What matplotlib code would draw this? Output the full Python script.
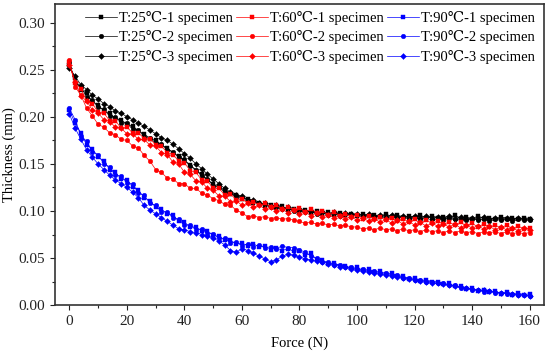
import matplotlib
matplotlib.use("Agg")
import matplotlib.pyplot as plt
from matplotlib.ticker import MultipleLocator, FormatStrFormatter

plt.rcParams['font.family'] = ['Liberation Serif', 'DejaVu Serif']

force = [0, 2, 4, 6, 8, 10, 12, 14, 16, 18,
         20, 22, 24, 26, 28, 30, 32, 34, 36, 38,
         40, 42, 44, 46, 48, 50, 52, 54, 56, 58,
         60, 62, 64, 66, 68, 70, 72, 74, 76, 78,
         80, 82, 84, 86, 88, 90, 92, 94, 96, 98,
         100, 102, 104, 106, 108, 110, 112, 114, 116, 118,
         120, 122, 124, 126, 128, 130, 132, 134, 136, 138,
         140, 142, 144, 146, 148, 150, 152, 154, 156, 158, 160]

t25_1 = [0.255, 0.241, 0.229, 0.225, 0.216, 0.213, 0.206, 0.204, 0.198, 0.197,
         0.192, 0.190, 0.185, 0.182, 0.177, 0.175, 0.170, 0.167, 0.162, 0.158,
         0.153, 0.149, 0.143, 0.139, 0.133, 0.129, 0.125, 0.122, 0.118, 0.117,
         0.113, 0.113, 0.109, 0.109, 0.105, 0.106, 0.103, 0.105, 0.101, 0.102,
         0.099, 0.101, 0.098, 0.100, 0.097, 0.099, 0.096, 0.098, 0.096, 0.097,
         0.095, 0.097, 0.095, 0.096, 0.094, 0.097, 0.094, 0.096, 0.093, 0.095,
         0.093, 0.096, 0.092, 0.095, 0.093, 0.094, 0.092, 0.096, 0.092, 0.094,
         0.091, 0.095, 0.092, 0.093, 0.091, 0.094, 0.092, 0.093, 0.091, 0.093, 0.092]
t25_2 = [0.258, 0.236, 0.232, 0.221, 0.218, 0.210, 0.208, 0.201, 0.200, 0.194,
         0.193, 0.187, 0.186, 0.179, 0.178, 0.172, 0.171, 0.165, 0.163, 0.157,
         0.155, 0.148, 0.144, 0.137, 0.134, 0.127, 0.125, 0.120, 0.119, 0.115,
         0.115, 0.111, 0.111, 0.107, 0.107, 0.104, 0.104, 0.102, 0.103, 0.100,
         0.101, 0.099, 0.100, 0.097, 0.099, 0.096, 0.098, 0.095, 0.097, 0.095,
         0.096, 0.094, 0.096, 0.093, 0.095, 0.093, 0.095, 0.092, 0.094, 0.092,
         0.094, 0.091, 0.094, 0.092, 0.093, 0.090, 0.093, 0.091, 0.092, 0.090,
         0.092, 0.090, 0.092, 0.089, 0.091, 0.090, 0.091, 0.089, 0.091, 0.090, 0.090]
t25_3 = [0.252, 0.243, 0.234, 0.229, 0.223, 0.219, 0.214, 0.211, 0.206, 0.204,
         0.200, 0.197, 0.193, 0.190, 0.186, 0.182, 0.178, 0.175, 0.171, 0.166,
         0.161, 0.156, 0.150, 0.145, 0.139, 0.134, 0.129, 0.124, 0.120, 0.117,
         0.116, 0.112, 0.112, 0.108, 0.108, 0.105, 0.106, 0.103, 0.104, 0.101,
         0.102, 0.100, 0.100, 0.098, 0.099, 0.097, 0.099, 0.096, 0.098, 0.097,
         0.097, 0.095, 0.097, 0.095, 0.096, 0.094, 0.096, 0.094, 0.095, 0.093,
         0.095, 0.093, 0.095, 0.092, 0.094, 0.093, 0.095, 0.092, 0.094, 0.092,
         0.093, 0.092, 0.094, 0.091, 0.093, 0.092, 0.093, 0.091, 0.093, 0.091, 0.092]

t60_1 = [0.258, 0.236, 0.230, 0.217, 0.214, 0.205, 0.204, 0.196, 0.196, 0.188,
         0.189, 0.183, 0.183, 0.177, 0.177, 0.170, 0.169, 0.162, 0.160, 0.153,
         0.151, 0.143, 0.141, 0.133, 0.132, 0.124, 0.124, 0.117, 0.118, 0.112,
         0.113, 0.108, 0.110, 0.106, 0.108, 0.104, 0.106, 0.102, 0.104, 0.101,
         0.103, 0.099, 0.102, 0.098, 0.100, 0.096, 0.099, 0.095, 0.097, 0.094,
         0.096, 0.092, 0.095, 0.091, 0.094, 0.090, 0.093, 0.089, 0.092, 0.088,
         0.091, 0.087, 0.090, 0.087, 0.089, 0.086, 0.088, 0.085, 0.088, 0.084,
         0.087, 0.083, 0.086, 0.083, 0.085, 0.082, 0.085, 0.081, 0.084, 0.081, 0.082]
t60_2 = [0.260, 0.232, 0.223, 0.209, 0.201, 0.192, 0.189, 0.183, 0.181, 0.176,
         0.175, 0.169, 0.167, 0.159, 0.153, 0.144, 0.141, 0.135, 0.134, 0.129,
         0.129, 0.124, 0.124, 0.119, 0.117, 0.113, 0.111, 0.107, 0.106, 0.101,
         0.098, 0.094, 0.095, 0.093, 0.094, 0.092, 0.093, 0.091, 0.092, 0.090,
         0.089, 0.087, 0.088, 0.086, 0.087, 0.085, 0.086, 0.084, 0.085, 0.083,
         0.083, 0.081, 0.082, 0.080, 0.082, 0.080, 0.081, 0.079, 0.081, 0.079,
         0.080, 0.078, 0.080, 0.078, 0.079, 0.077, 0.079, 0.077, 0.079, 0.077,
         0.078, 0.076, 0.078, 0.077, 0.078, 0.076, 0.078, 0.076, 0.077, 0.076, 0.077]
t60_3 = [0.255, 0.237, 0.222, 0.217, 0.207, 0.204, 0.197, 0.195, 0.189, 0.188,
         0.182, 0.182, 0.176, 0.176, 0.170, 0.169, 0.162, 0.160, 0.152, 0.150,
         0.141, 0.139, 0.132, 0.131, 0.124, 0.122, 0.116, 0.116, 0.110, 0.111,
         0.106, 0.108, 0.104, 0.106, 0.102, 0.104, 0.100, 0.102, 0.098, 0.101,
         0.097, 0.099, 0.095, 0.098, 0.094, 0.096, 0.093, 0.095, 0.092, 0.094,
         0.090, 0.093, 0.089, 0.092, 0.088, 0.091, 0.087, 0.090, 0.086, 0.089,
         0.085, 0.088, 0.084, 0.087, 0.084, 0.086, 0.083, 0.086, 0.082, 0.085,
         0.082, 0.084, 0.081, 0.084, 0.080, 0.083, 0.080, 0.082, 0.079, 0.082, 0.080]

t90_1 = [0.207, 0.193, 0.183, 0.170, 0.166, 0.157, 0.153, 0.144, 0.141, 0.134,
         0.133, 0.126, 0.122, 0.114, 0.111, 0.104, 0.102, 0.097, 0.096, 0.089,
         0.088, 0.083, 0.083, 0.079, 0.079, 0.074, 0.073, 0.069, 0.069, 0.065,
         0.066, 0.063, 0.065, 0.062, 0.063, 0.059, 0.061, 0.058, 0.060, 0.057,
         0.058, 0.053, 0.055, 0.048, 0.048, 0.044, 0.045, 0.042, 0.042, 0.039,
         0.040, 0.037, 0.038, 0.035, 0.036, 0.033, 0.034, 0.031, 0.031, 0.028,
         0.029, 0.026, 0.027, 0.025, 0.025, 0.022, 0.023, 0.020, 0.020, 0.017,
         0.018, 0.015, 0.016, 0.014, 0.015, 0.012, 0.014, 0.011, 0.013, 0.011, 0.012]
t90_2 = [0.209, 0.197, 0.180, 0.174, 0.163, 0.160, 0.150, 0.147, 0.138, 0.137,
         0.130, 0.129, 0.119, 0.117, 0.108, 0.106, 0.099, 0.099, 0.093, 0.091,
         0.085, 0.085, 0.080, 0.081, 0.076, 0.076, 0.071, 0.071, 0.066, 0.067,
         0.063, 0.065, 0.062, 0.064, 0.061, 0.062, 0.060, 0.063, 0.061, 0.061,
         0.059, 0.056, 0.052, 0.050, 0.046, 0.046, 0.043, 0.043, 0.040, 0.040,
         0.038, 0.038, 0.036, 0.036, 0.034, 0.034, 0.032, 0.032, 0.029, 0.029,
         0.027, 0.027, 0.025, 0.025, 0.023, 0.023, 0.021, 0.021, 0.018, 0.018,
         0.016, 0.016, 0.014, 0.015, 0.013, 0.013, 0.012, 0.012, 0.011, 0.011, 0.010]
t90_3 = [0.203, 0.188, 0.176, 0.165, 0.157, 0.150, 0.144, 0.138, 0.133, 0.129,
         0.125, 0.120, 0.114, 0.106, 0.101, 0.097, 0.093, 0.089, 0.085, 0.081,
         0.080, 0.078, 0.077, 0.075, 0.073, 0.071, 0.068, 0.064, 0.058, 0.056,
         0.060, 0.058, 0.055, 0.052, 0.049, 0.046, 0.048, 0.052, 0.054, 0.053,
         0.051, 0.049, 0.048, 0.047, 0.046, 0.044, 0.043, 0.041, 0.040, 0.038,
         0.037, 0.036, 0.035, 0.034, 0.033, 0.032, 0.031, 0.030, 0.029, 0.028,
         0.027, 0.026, 0.025, 0.024, 0.023, 0.022, 0.021, 0.020, 0.019, 0.018,
         0.017, 0.016, 0.016, 0.015, 0.014, 0.013, 0.013, 0.012, 0.011, 0.011, 0.010]

series = [
    ("T:25\u2103-1 specimen", t25_1, "black", "s"),
    ("T:25\u2103-2 specimen", t25_2, "black", "o"),
    ("T:25\u2103-3 specimen", t25_3, "black", "D"),
    ("T:60\u2103-1 specimen", t60_1, "red", "s"),
    ("T:60\u2103-2 specimen", t60_2, "red", "o"),
    ("T:60\u2103-3 specimen", t60_3, "red", "D"),
    ("T:90\u2103-1 specimen", t90_1, "blue", "s"),
    ("T:90\u2103-2 specimen", t90_2, "blue", "o"),
    ("T:90\u2103-3 specimen", t90_3, "blue", "D"),
]

fig = plt.figure(figsize=(5.5, 3.56), dpi=100)
ax = fig.add_axes([0.1, 0.143, 0.889, 0.846])

for label, vals, col, mk in series:
    ms = 3.3 if mk != "D" else 3.0
    ax.plot(force, vals, color=col, marker=mk, markersize=ms, linewidth=0.5,
            markeredgewidth=0.3, label=label)

ax.set_xlim(-5, 165)
ax.set_ylim(0, 0.32)
ax.xaxis.set_major_locator(MultipleLocator(20))
ax.xaxis.set_minor_locator(MultipleLocator(10))
ax.yaxis.set_major_locator(MultipleLocator(0.05))
ax.yaxis.set_minor_locator(MultipleLocator(0.025))
ax.yaxis.set_major_formatter(FormatStrFormatter('%.2f'))
ax.tick_params(which='major', direction='out', length=3.5, width=0.8, labelsize=11, colors='#222222')
ax.tick_params(which='minor', direction='out', length=2, width=0.8, colors='#222222')
for s in ax.spines.values():
    s.set_linewidth(1.2)
    s.set_color('#333333')

ax.set_xlabel("Force (N)", fontsize=10.5, labelpad=6)
ax.set_ylabel("Thickness (mm)", fontsize=10.5, labelpad=2)

leg = ax.legend(ncol=3, loc='upper right', bbox_to_anchor=(1.0, 1.005), frameon=False,
                fontsize=10.5, handlelength=2.2, handletextpad=0.15, columnspacing=0.2,
                labelspacing=0.36, borderaxespad=0.2, markerscale=1.0)

fig.savefig("out.png", dpi=100)
